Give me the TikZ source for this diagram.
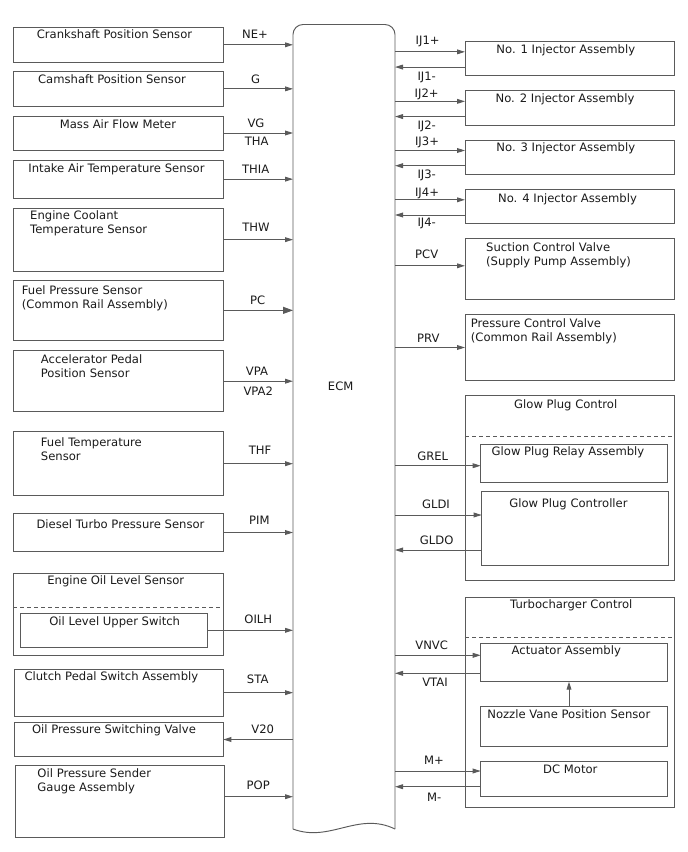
\documentclass[tikz,border=0pt]{standalone}
\usepackage{fontspec}
\setmainfont{DejaVu Sans}
\usetikzlibrary{arrows.meta,calc}
\definecolor{ln}{HTML}{5A5A5A}
\definecolor{tx}{HTML}{1A1A1A}
\begin{document}
\begin{tikzpicture}[x=1pt,y=-1pt,
  box/.style={draw=ln, line width=0.95pt, anchor=north west, inner sep=0pt, outer sep=0pt},
  txt/.style={text=tx, font=\fontsize{11.6}{14}\selectfont, inner sep=0pt, align=left},
  sig/.style={text=tx, font=\fontsize{11.6}{14}\selectfont, inner sep=0pt, text height=8.4pt, text depth=2pt},
  arr/.style={draw=ln, line width=0.95pt, -{Triangle[length=8pt,width=4.8pt]}},
  arrbig/.style={draw=ln, line width=0.95pt, -{Triangle[length=10pt,width=7pt]}},
  sep/.style={draw=ln, line width=0.95pt, dash pattern=on 4pt off 3pt}]
\useasboundingbox (0,0) rectangle (688,852);

% ECM
\node[inner sep=0pt, outer sep=0pt, minimum width=102pt, minimum height=804.5pt, anchor=north west] (ecm) at (293,24.5) {};
\draw[draw=ln, line width=0.95pt, rounded corners=10pt] (ecm.south west) -- (ecm.north west) -- (ecm.north east) -- (ecm.south east);
\coordinate (ec1) at ($(ecm.south west)+(37,14)$);
\coordinate (ec2) at ($(ecm.south west)+(65,-18)$);
\draw[draw=ln, line width=0.95pt] (ecm.south west) .. controls (ec1) and (ec2) .. (ecm.south east);
\node[sig] (ecmlbl) at (340.7,387.3) {ECM};

% left boxes
\node[box, minimum width=210pt, minimum height=35pt] (crank) at (13.3,27.3) {};
\node[box, minimum width=210pt, minimum height=34.3pt] (cam) at (13.3,71.7) {};
\node[box, minimum width=210pt, minimum height=34pt] (maf) at (13.3,116) {};
\node[box, minimum width=210pt, minimum height=38.3pt] (iat) at (13.3,160) {};
\node[box, minimum width=210pt, minimum height=62.7pt] (ect) at (13.3,208.3) {};
\node[box, minimum width=210pt, minimum height=59.3pt] (fps) at (13.3,280.7) {};
\node[box, minimum width=210pt, minimum height=61pt] (app) at (13.3,350.7) {};
\node[box, minimum width=210pt, minimum height=64pt] (ftemp) at (13.3,431.7) {};
\node[box, minimum width=210pt, minimum height=38.4pt] (dtp) at (13.3,513.3) {};
\node[box, minimum width=210pt, minimum height=82.4pt] (oil) at (13.3,573.3) {};
\node[box, minimum width=186.6pt, minimum height=34pt] (olus) at (20.7,613.3) {};
\node[box, minimum width=209pt, minimum height=46.7pt] (clutch) at (14.3,669.3) {};
\node[box, minimum width=209pt, minimum height=34.4pt] (opsv) at (14.3,722.3) {};
\node[box, minimum width=209pt, minimum height=71.6pt] (ops) at (15,765.7) {};
\draw[sep] ($(oil.north west)+(0,34)$) -- ($(oil.north east)+(0,34)$);

% left texts
\node[sig] (tcrank) at (114.5,35.7) {Crankshaft Position Sensor};
\node[sig] (tcam) at (112,80) {Camshaft Position Sensor};
\node[sig] (tmaf) at (118,125) {Mass Air Flow Meter};
\node[sig] (tiat) at (116.5,169) {Intake Air Temperature Sensor};
\node[txt, anchor=west] (tect) at (30,223.7) {Engine Coolant\\Temperature Sensor};
\node[txt, anchor=west] (tfps) at (21.7,297.9) {Fuel Pressure Sensor\\(Common Rail Assembly)};
\node[txt, anchor=west] (tapp) at (40.7,365.9) {Accelerator Pedal\\Position Sensor};
\node[txt, anchor=west] (tftemp) at (40.7,448.7) {Fuel Temperature\\Sensor};
\node[sig] (tdtp) at (120.5,525) {Diesel Turbo Pressure Sensor};
\node[sig] (toil) at (115.8,581.7) {Engine Oil Level Sensor};
\node[sig] (tolus) at (114.7,622.3) {Oil Level Upper Switch};
\node[sig] (tclutch) at (111.4,677.7) {Clutch Pedal Switch Assembly};
\node[sig] (topsv) at (114,730.7) {Oil Pressure Switching Valve};
\node[txt, anchor=west] (tops) at (37.3,781.7) {Oil Pressure Sender\\Gauge Assembly};

% left connectors
\draw[arr] (crank.east) -- (crank.east -| ecm.west);
\draw[arr] (cam.east) -- (cam.east -| ecm.west);
\draw[arr] (maf.east) -- (maf.east -| ecm.west);
\draw[arr] (iat.east) -- (iat.east -| ecm.west);
\draw[arr] (ect.east) -- (ect.east -| ecm.west);
\draw[arrbig] (fps.east) -- (fps.east -| ecm.west);
\draw[arr] (app.east) -- (app.east -| ecm.west);
\draw[arr] (ftemp.east) -- (ftemp.east -| ecm.west);
\draw[arr] (dtp.east) -- (dtp.east -| ecm.west);
\draw[arr] (olus.east) -- (olus.east -| ecm.west);
\draw[arr] (clutch.east) -- (clutch.east -| ecm.west);
\draw[arr] (opsv.east -| ecm.west) -- (opsv.east);
\coordinate (opsp) at ($(ops.east)+(0,-4.8)$);
\draw[arr] (opsp) -- (opsp -| ecm.west);

% left labels
\node[sig] (lne) at (255,35.7) {NE+};
\node[sig] (lg) at (255.7,80) {G};
\node[sig] (lvg) at (256,124) {VG};
\node[sig] (ltha) at (256.7,142.3) {THA};
\node[sig] (lthia) at (255.7,170) {THIA};
\node[sig] (lthw) at (256,228.3) {THW};
\node[sig] (lpc) at (257.7,301) {PC};
\node[sig] (lvpa) at (257,372.3) {VPA};
\node[sig] (lvpa2) at (258.3,392.3) {VPA2};
\node[sig] (lthf) at (260,451.7) {THF};
\node[sig] (lpim) at (259.3,521.7) {PIM};
\node[sig] (loilh) at (258.3,620.7) {OILH};
\node[sig] (lsta) at (257.7,680.7) {STA};
\node[sig] (lv20) at (262.7,730) {V20};
\node[sig] (lpop) at (258.3,786.7) {POP};

% right boxes
\node[box, minimum width=209pt, minimum height=33.3pt] (inj1) at (465,41.7) {};
\node[box, minimum width=209pt, minimum height=34.3pt] (inj2) at (465,90.7) {};
\node[box, minimum width=209pt, minimum height=34pt] (inj3) at (465,140) {};
\node[box, minimum width=209pt, minimum height=34pt] (inj4) at (465,189.3) {};
\node[box, minimum width=209pt, minimum height=61pt] (scv) at (465,238.3) {};
\node[box, minimum width=209pt, minimum height=66.4pt] (prv) at (465,314.3) {};
\node[box, minimum width=209pt, minimum height=185pt] (gpc) at (465,395.7) {};
\node[box, minimum width=186.6pt, minimum height=38pt] (relay) at (480.7,444.3) {};
\node[box, minimum width=186.6pt, minimum height=74pt] (ctrl) at (481.7,491.7) {};
\node[box, minimum width=209pt, minimum height=210.4pt] (tc) at (465,597.3) {};
\node[box, minimum width=186.6pt, minimum height=38.4pt] (act) at (480.7,643.3) {};
\node[box, minimum width=186.6pt, minimum height=40.7pt] (noz) at (480.7,706) {};
\node[box, minimum width=186.6pt, minimum height=34.3pt] (dcm) at (480.7,761.7) {};
\draw[sep] ($(gpc.north west)+(0,40.3)$) -- ($(gpc.north east)+(0,40.3)$);
\draw[sep] ($(tc.north west)+(0,40)$) -- ($(tc.north east)+(0,40)$);

% right texts
\node[sig] (tinj1) at (565.8,50) {No. 1 Injector Assembly};
\node[sig] (tinj2) at (565,99.3) {No. 2 Injector Assembly};
\node[sig] (tinj3) at (565.8,148.3) {No. 3 Injector Assembly};
\node[sig] (tinj4) at (567.5,199) {No. 4 Injector Assembly};
\node[txt, anchor=west] (tscv) at (486,254.8) {Suction Control Valve\\(Supply Pump Assembly)};
\node[txt, anchor=west] (tprv) at (470.7,331.2) {Pressure Control Valve\\(Common Rail Assembly)};
\node[sig] (tgpc) at (565.7,405) {Glow Plug Control};
\node[sig] (trelay) at (568,452.7) {Glow Plug Relay Assembly};
\node[sig] (tctrl) at (568.5,504) {Glow Plug Controller};
\node[sig] (ttc) at (571.3,605.7) {Turbocharger Control};
\node[sig] (tact) at (566.3,651.7) {Actuator Assembly};
\node[sig] (tnoz) at (568.8,715) {Nozzle Vane Position Sensor};
\node[sig] (tdcm) at (570.3,770) {DC Motor};

% right connectors
\foreach \i in {1,2,3,4}{
  \coordinate (out\i) at ($(inj\i.west)+(0,-6.5)$);
  \coordinate (in\i) at ($(inj\i.west)+(0,8.7)$);
  \draw[arr] (ecm.east |- out\i) -- (out\i);
  \draw[arr] (in\i) -- (ecm.east |- in\i);
}
\coordinate (scvp) at ($(scv.west)+(0,-3)$);
\draw[arr] (ecm.east |- scvp) -- (scvp);
\draw[arr] (ecm.east |- prv.west) -- (prv.west);
\coordinate (relp) at ($(relay.west)+(0,2.4)$);
\draw[arr] (ecm.east |- relp) -- (relp);
\coordinate (gldi) at ($(ctrl.west)+(0,-13.7)$);
\coordinate (gldo) at ($(ctrl.west)+(0,21.3)$);
\draw[arr] (ecm.east |- gldi) -- (gldi);
\draw[arr] (gldo) -- (ecm.east |- gldo);
\coordinate (vnvc) at ($(act.west)+(0,-7.2)$);
\coordinate (vtai) at ($(act.west)+(0,10.8)$);
\draw[arr] (ecm.east |- vnvc) -- (vnvc);
\draw[arr] (vtai) -- (ecm.east |- vtai);
\coordinate (mp) at ($(dcm.west)+(0,-7.85)$);
\coordinate (mm) at ($(dcm.west)+(0,7.85)$);
\draw[arr] (ecm.east |- mp) -- (mp);
\draw[arr] (mm) -- (ecm.east |- mm);
\coordinate (nz1) at ($(noz.north)+(-5,0)$);
\coordinate (nz2) at ($(act.south)+(-5,0)$);
\draw[arr] (nz1) -- (nz2);

% right labels
\node[sig] (lij1p) at (427.7,41) {IJ1+};
\node[sig] (lij1m) at (426.7,77.3) {IJ1-};
\node[sig] (lij2p) at (426.7,94) {IJ2+};
\node[sig] (lij2m) at (426.7,126) {IJ2-};
\node[sig] (lij3p) at (427,142.7) {IJ3+};
\node[sig] (lij3m) at (426.7,175) {IJ3-};
\node[sig] (lij4p) at (427,193.3) {IJ4+};
\node[sig] (lij4m) at (426.7,223.3) {IJ4-};
\node[sig] (lpcv) at (426.7,255.7) {PCV};
\node[sig] (lprv) at (428.3,339) {PRV};
\node[sig] (lgrel) at (432.7,457.3) {GREL};
\node[sig] (lgldi) at (436,505) {GLDI};
\node[sig] (lgldo) at (436.7,541) {GLDO};
\node[sig] (lvnvc) at (431.7,646.7) {VNVC};
\node[sig] (lvtai) at (435,683.3) {VTAI};
\node[sig] (lmp) at (434,761.7) {M+};
\node[sig] (lmm) at (434.3,798.3) {M-};
\end{tikzpicture}
\end{document}
